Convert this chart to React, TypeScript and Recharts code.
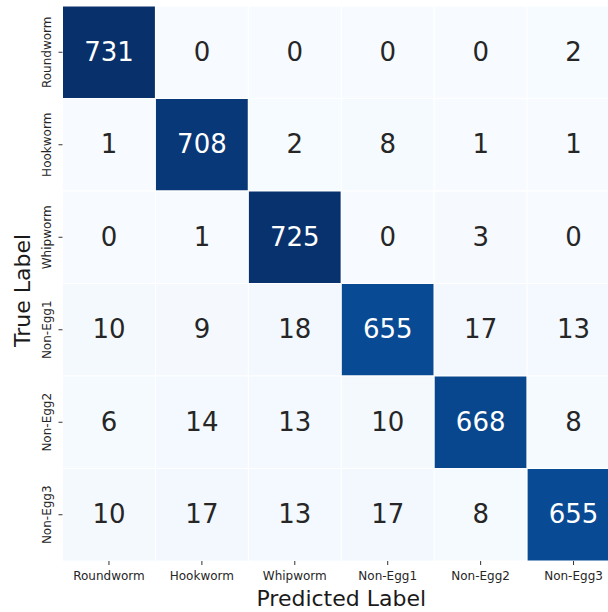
import React from 'react';
import { BarChart, Bar, XAxis, YAxis, Cell, LabelList } from 'recharts';

// Class names along both axes
const predictedLabels = ['Roundworm', 'Hookworm', 'Whipworm', 'Non-Egg1', 'Non-Egg2', 'Non-Egg3'];
const trueLabels = ['Roundworm', 'Hookworm', 'Whipworm', 'Non-Egg1', 'Non-Egg2', 'Non-Egg3'];

// Confusion-matrix rows (true label), columns follow predictedLabels
const roundwormRow = [731, 0, 0, 0, 0, 2];
const hookwormRow = [1, 708, 2, 8, 1, 1];
const whipwormRow = [0, 1, 725, 0, 3, 0];
const nonEgg1Row = [10, 9, 18, 655, 17, 13];
const nonEgg2Row = [6, 14, 13, 10, 668, 8];
const nonEgg3Row = [10, 17, 13, 17, 8, 655];

const matrix = [roundwormRow, hookwormRow, whipwormRow, nonEgg1Row, nonEgg2Row, nonEgg3Row];
const yTicks = [0.5, 1.5, 2.5, 3.5, 4.5, 5.5];

const FONT = '"DejaVu Sans", Verdana, sans-serif';

// Matplotlib "Blues" colour map stops
const BLUES = ['#f7fbff', '#deebf7', '#c6dbef', '#9ecae1', '#6baed6', '#4292c6', '#2171b5', '#08519c', '#08306b'];

const hexToRgb = (h: string) => [1, 3, 5].map((i) => parseInt(h.slice(i, i + 2), 16));

const blues = (t: number) => {
  const c = Math.max(0, Math.min(1, t)) * (BLUES.length - 1);
  const i = Math.min(Math.floor(c), BLUES.length - 2);
  const f = c - i;
  const a = hexToRgb(BLUES[i]);
  const b = hexToRgb(BLUES[i + 1]);
  return a.map((v, k) => Math.round(v + (b[k] - v) * f));
};

const vmax = Math.max(...matrix.flat());
const vmin = 0;

const cellRgb = (v: number) => blues((v - vmin) / (vmax - vmin));
const cellFill = (v: number) => {
  const [r, g, b] = cellRgb(v);
  return `rgb(${r},${g},${b})`;
};
const textFill = (v: number) => {
  const [r, g, b] = cellRgb(v).map((c) => {
    const s = c / 255;
    return s <= 0.03928 ? s / 12.92 : Math.pow((s + 0.055) / 1.055, 2.4);
  });
  const lum = 0.2126 * r + 0.7152 * g + 0.0722 * b;
  return lum > 0.408 ? '#262626' : '#ffffff';
};

// One record per predicted column: unit-height stack segments plus the counts
const data = predictedLabels.map((name, j) => {
  const rec: Record<string, number | string> = { name };
  trueLabels.forEach((_, i) => {
    rec[`t${i}`] = 1;
    rec[`c${i}`] = matrix[i][j];
  });
  return rec;
});

const XTick = (props: any) => {
  const { x, y, payload } = props;
  return (
    <text x={x} y={y + 15} textAnchor="middle" fontSize={12} fontFamily={FONT} fill="#262626">
      {payload.value}
    </text>
  );
};

const YTick = (props: any) => {
  const { x, y, payload } = props;
  const tx = x - 8;
  return (
    <text
      x={tx}
      y={y}
      transform={`rotate(-90, ${tx}, ${y})`}
      textAnchor="middle"
      fontSize={12}
      fontFamily={FONT}
      fill="#262626"
    >
      {trueLabels[Math.floor(payload.value)]}
    </text>
  );
};

const CountLabel = (props: any) => {
  const { x, y, width, height, value } = props;
  const cx = x + width / 2;
  const cy = y + height / 2;
  return (
    <text x={cx} y={cy + 8.5} textAnchor="middle" fontSize={26} fontFamily={FONT} fill={textFill(value)}>
      {value}
    </text>
  );
};

export default function App() {
  return (
    <div style={{ position: 'absolute', left: 0, top: 0, width: 608, height: 612, overflow: 'hidden', background: '#fff' }}>
      <BarChart
        width={620}
        height={612}
        data={data}
        margin={{ top: 6, right: 0, bottom: 0, left: 0 }}
        barCategoryGap={0}
        barGap={0}
      >
        <XAxis
          dataKey="name"
          type="category"
          height={51}
          axisLine={false}
          tickLine={{ stroke: '#333', strokeWidth: 1 }}
          tickSize={4}
          tickMargin={0}
          tick={<XTick />}
          interval={0}
          label={{
            content: (p: any) => {
              const vb = p.viewBox;
              return (
                <text x={vb.x + vb.width / 2} y={vb.y + 45} textAnchor="middle" fontSize={22} fontFamily={FONT} fill="#1a1a1a">
                  Predicted Label
                </text>
              );
            },
          }}
        />
        <YAxis
          type="number"
          domain={[0, 6]}
          reversed
          ticks={yTicks}
          width={62.5}
          axisLine={false}
          tickLine={{ stroke: '#333', strokeWidth: 1 }}
          tickSize={4}
          tickMargin={0}
          tick={<YTick />}
          interval={0}
          label={{
            content: (p: any) => {
              const vb = p.viewBox;
              const lx = 30;
              const ly = vb.y + vb.height / 2 + 7;
              return (
                <text
                  x={lx}
                  y={ly}
                  transform={`rotate(-90, ${lx}, ${ly})`}
                  textAnchor="middle"
                  fontSize={22}
                  fontFamily={FONT}
                  fill="#1a1a1a"
                >
                  True Label
                </text>
              );
            },
          }}
        />
        {trueLabels.map((_, i) => (
          <Bar key={i} dataKey={`t${i}`} stackId="cm" isAnimationActive={false}>
            {data.map((d, j) => (
              <Cell key={j} fill={cellFill(matrix[i][j])} stroke="#ffffff" strokeWidth={1} />
            ))}
            <LabelList dataKey={`c${i}`} content={<CountLabel />} />
          </Bar>
        ))}
      </BarChart>
    </div>
  );
}
